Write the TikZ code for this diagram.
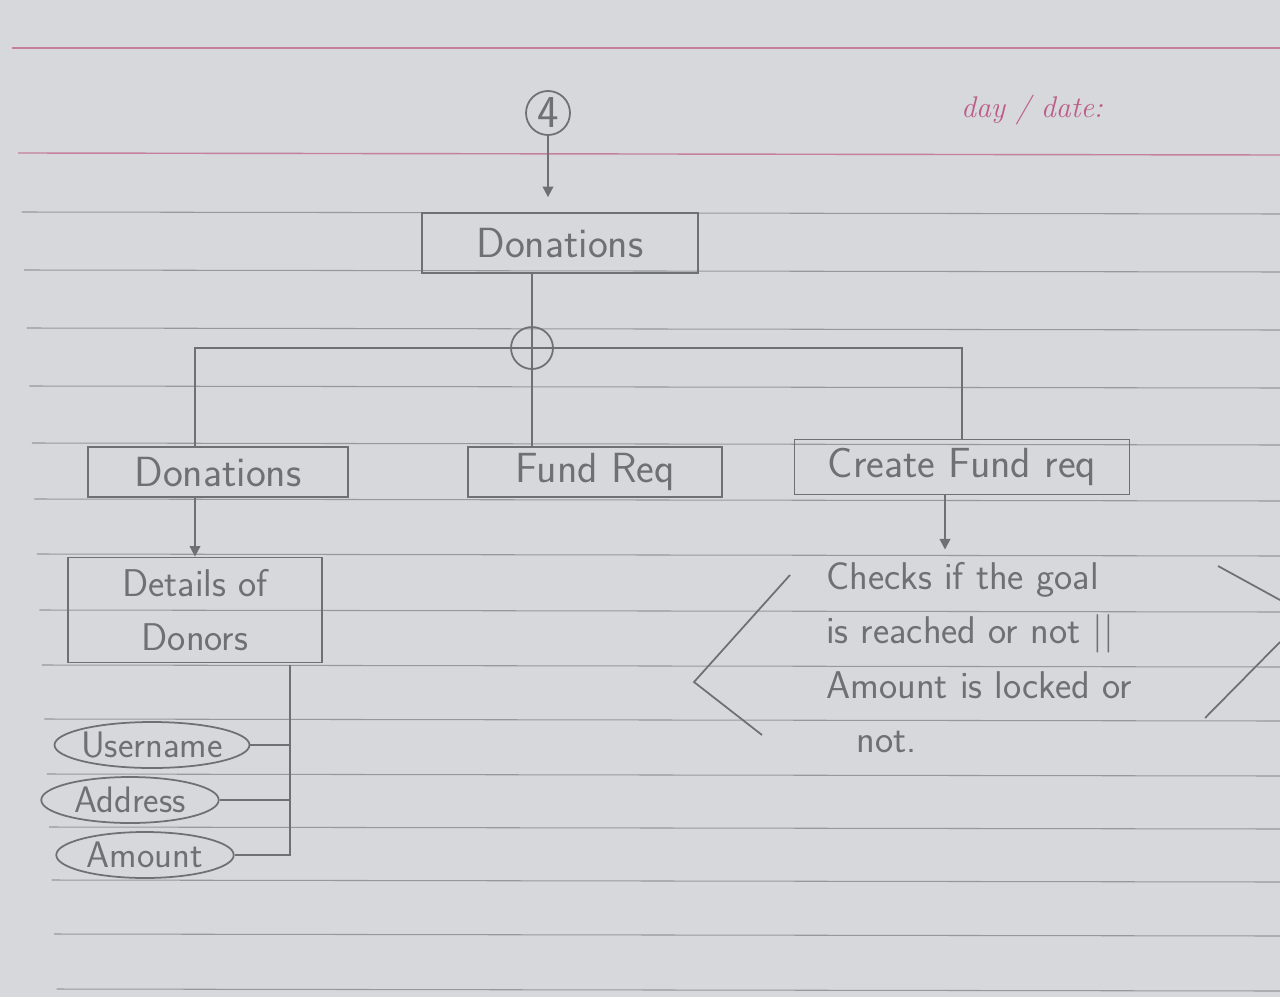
\documentclass[tikz,border=0pt]{standalone}
\usepackage{tikz}
\usetikzlibrary{arrows.meta,positioning,shapes.geometric}

\definecolor{paper}{RGB}{214,216,219}
\definecolor{pencil}{RGB}{112,112,116}
\definecolor{ruleline}{RGB}{150,152,158}
\definecolor{pinkrule}{RGB}{196,128,158}
\definecolor{pinkink}{RGB}{188,92,138}

\begin{document}
\begin{tikzpicture}[
  x=0.02cm, y=-0.02cm,
  >={Triangle[length=6pt,width=6pt]},
  font=\fontsize{24}{28}\selectfont\sffamily,
  box/.style={draw=pencil, line width=1pt, text=pencil,
              minimum height=1.0cm, inner sep=2pt, align=center},
  attr/.style={draw=pencil, ellipse, line width=1pt, text=pencil,
               minimum height=0.92cm, inner xsep=-0.35cm, inner ysep=0pt,
               font=\fontsize{21}{24}\selectfont\sffamily},
  ring/.style={draw=pencil, circle, line width=1pt, text=pencil, inner sep=0pt},
  note/.style={text=pencil, align=left, inner sep=0pt,
               font=\fontsize{22}{31}\selectfont\sffamily},
  wire/.style={draw=pencil, line width=1pt},
  arr/.style={->, draw=pencil, fill=pencil, line width=1pt},
]
  %% Ruled paper
  \fill[paper] (0,0) rectangle (1280,997);
  \useasboundingbox (0,0) rectangle (1280,997);
  \draw[pinkrule, line width=0.8pt] (12,48) -- (1280,48);
  \draw[pinkrule, line width=0.8pt] (18,153) -- (1280,155);
  \foreach \y in {212,270,328,386,443,499,554,610,665,719,774,827,880,934,989}
    \draw[ruleline, line width=0.6pt] ({12+0.045*\y},\y) -- (1280,\y+2);
  \node[text=pinkink, font=\fontsize{17}{20}\selectfont\rmfamily\itshape]
    (daydate) at (1032,110) {day / date:};

  %% Top of the tree
  \node[ring, minimum size=0.88cm, font=\fontsize{26}{28}\selectfont\sffamily] (num4) at (548,113) {4};
  \node[box, minimum width=5.52cm, minimum height=1.2cm] (donTop) at (560,243) {Donations};
  \node[ring, minimum size=0.84cm] (junction) at (532,348) {};

  %% Second level
  \node[box, minimum width=5.2cm] (donLeft) at (218,472) {Donations};
  \node[box, minimum width=5.08cm] (fundReq) at (595,472) {Fund Req};
  \node[box, minimum width=6.7cm, minimum height=1.1cm] (createReq) at (962,467) {Create Fund req};

  %% Donor details and attributes
  \node[box, minimum width=5.08cm, minimum height=2.1cm,
        font=\fontsize{22}{31}\selectfont\sffamily] (details) at (195,610) {Details of\\Donors};
  \node[attr, minimum width=3.9cm] (user) at (152,745) {Username};
  \node[attr, minimum width=3.55cm] (addr) at (130,800) {Address};
  \node[attr, minimum width=3.55cm] (amount) at (145,855) {Amount};
  \coordinate (bus) at (290,665);

  %% Check on the fund request
  \node[note, anchor=north west] (checks) at (826,562)
    {Checks if the goal\\is reached or not \textbar\textbar\\Amount is locked or\\\hspace*{0.6cm}not.};
  \draw[wire] (790,575) -- (694,682) -- (762,735);
  \draw[wire] (1218,566) -- (1280,600);
  \draw[wire] (1280,642) -- (1205,718);

  %% Arrows and branches
  \draw[arr, shorten >=0.3cm] (num4) -- (donTop.north -| num4);
  \draw[wire] (donTop.south -| junction) -- (junction.north);
  \draw[wire] (junction.north) -- (junction.south);
  \draw[wire] (junction.south) -- (fundReq.north -| junction);
  \draw[wire] ([xshift=-0.46cm]donLeft.north) |- (junction.west);
  \draw[wire] (junction.west) -- (junction.east);
  \draw[wire] (junction.east) -| (createReq.north);
  \draw[arr] (donLeft.south -| details.north) -- (details.north);
  \draw[arr, shorten >=0.25cm] (createReq.south -| 945,0) -- (checks.north -| 945,0);

  %% Attribute bus
  \draw[wire] (bus) |- (amount.east);
  \draw[wire] (user.east) -- (user.east -| bus);
  \draw[wire] (addr.east) -- (addr.east -| bus);
\end{tikzpicture}
\end{document}
